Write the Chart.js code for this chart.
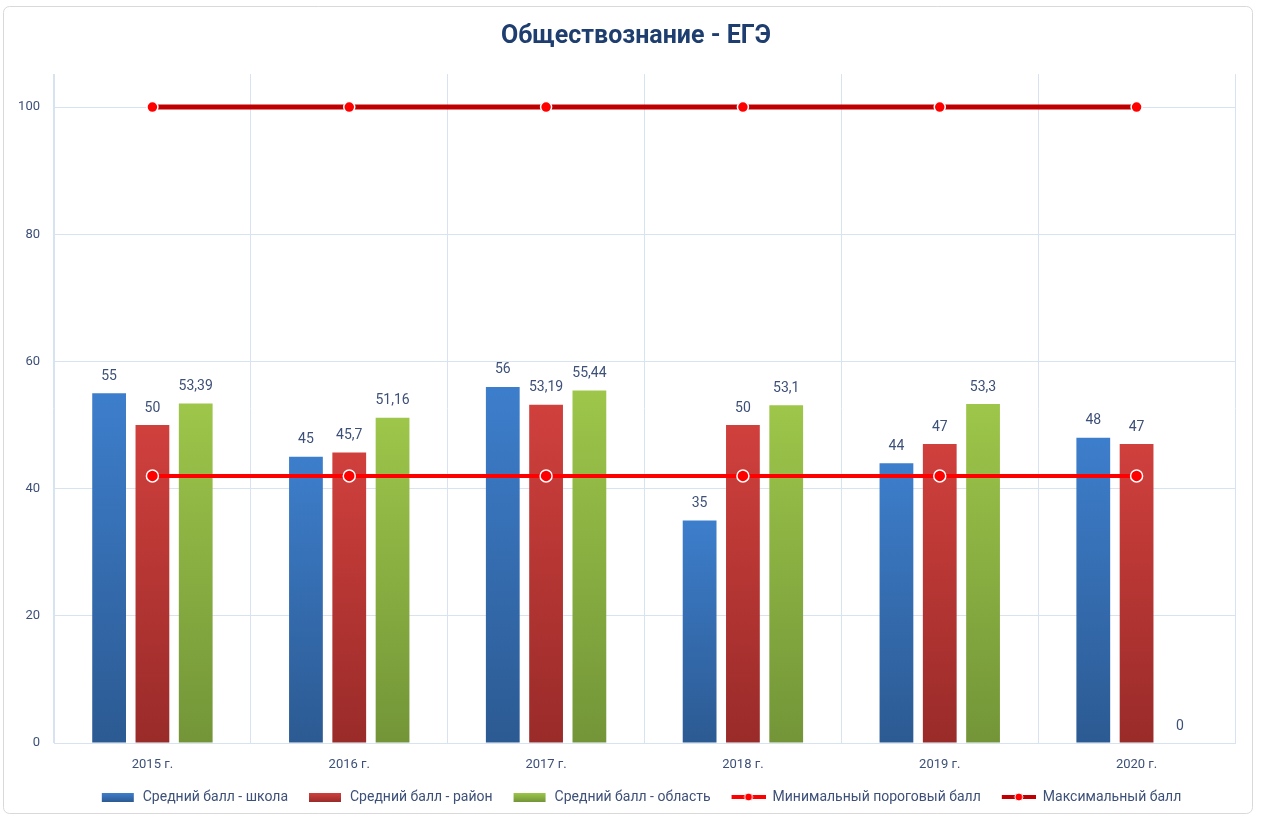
<!DOCTYPE html>
<html><head><meta charset="utf-8">
<script src="https://cdn.jsdelivr.net/npm/chart.js@4.4.0/dist/chart.umd.min.js"></script>
<style>html,body{margin:0;padding:0;background:#fff;overflow:hidden}#wrap{position:absolute;left:0;top:0;width:1261px;height:818px}</style>
</head><body><div id="wrap"><canvas id="c" width="1261" height="818"></canvas></div>
<script>
const categories = ['2015 г.','2016 г.','2017 г.','2018 г.','2019 г.','2020 г.'];
const schoolAvg = [55, 45, 56, 35, 44, 48];
const districtAvg = [50, 45.7, 53.19, 50, 47, 47];
const regionAvg = [53.39, 51.16, 55.44, 53.1, 53.3, 0];
const minThreshold = [42, 42, 42, 42, 42, 42];
const maxScore = [100, 100, 100, 100, 100, 100];
const yTicks = [0, 20, 40, 60, 80, 100];
const seriesNames = ['Средний балл - школа','Средний балл - район','Средний балл - область','Минимальный пороговый балл','Максимальный балл'];
const titleText = 'Обществознание - ЕГЭ';

const FONT = 'Roboto';
const TXT = '#3d5078';
const GRID = '#d8e3f1';
const blue = ['#3d7ecc', '#2c5a92'];
const red = ['#d0403d', '#992b29'];
const green = ['#9dc64a', '#739538'];
const LEAD = 11; // extra space before each legend symbol

function barGrad(c) {
  return (ctx) => {
    const chart = ctx.chart;
    if (!chart.chartArea || !chart.scales.y || !ctx.parsed) return c[0];
    const ys = chart.scales.y;
    const y0 = ys.getPixelForValue(ctx.parsed.y || 0);
    const y1 = ys.getPixelForValue(0);
    if (Math.abs(y1 - y0) < 1) return c[0];
    const g = chart.ctx.createLinearGradient(0, y0, 0, y1);
    g.addColorStop(0, c[0]); g.addColorStop(1, c[1]);
    return g;
  };
}
function boxImg(c) {
  const cv = document.createElement('canvas'); cv.width = 34 + LEAD; cv.height = 12;
  const x = cv.getContext('2d');
  const g = x.createLinearGradient(0, 2, 0, 11); g.addColorStop(0, c[0]); g.addColorStop(1, c[1]);
  x.fillStyle = g; x.fillRect(LEAD, 2, 32, 9);
  return cv;
}
function lineImg(col, w) {
  const cv = document.createElement('canvas'); cv.width = 34 + LEAD; cv.height = 12;
  const x = cv.getContext('2d');
  x.strokeStyle = col; x.lineWidth = w; x.beginPath(); x.moveTo(LEAD, 6); x.lineTo(LEAD + 34, 6); x.stroke();
  x.fillStyle = '#ff0000'; x.strokeStyle = '#ffffff'; x.lineWidth = 1;
  x.beginPath(); x.arc(LEAD + 17, 6, 4, 0, Math.PI * 2); x.fill(); x.stroke();
  return cv;
}
const legendImgs = [boxImg(blue), boxImg(red), boxImg(green), lineImg('#ff0000', 4), lineImg('#c00000', 4)];

const frame = {
  id: 'frame',
  beforeDraw(chart) {
    const x = chart.ctx; x.save();
    x.fillStyle = '#fff'; x.fillRect(0, 0, chart.width, chart.height);
    x.strokeStyle = '#d9d9d9'; x.lineWidth = 1;
    x.beginPath(); x.roundRect(3.5, 6.5, 1249, 807, 6); x.stroke();
    x.restore();
  }
};
const labels = {
  id: 'vlabels',
  afterDatasetsDraw(chart) {
    const x = chart.ctx; x.save();
    x.font = '14px ' + FONT; x.fillStyle = TXT; x.textAlign = 'center'; x.textBaseline = 'middle';
    [0, 1, 2].forEach(di => {
      const meta = chart.getDatasetMeta(di);
      meta.data.forEach((el, i) => {
        const v = chart.data.datasets[di].data[i];
        x.fillText(String(v).replace('.', ','), el.x, el.y - 17);
      });
    });
    x.restore();
  }
};

new Chart(document.getElementById('c'), {
  data: {
    labels: categories,
    datasets: [
      { type: 'bar', label: seriesNames[0], data: schoolAvg, backgroundColor: barGrad(blue), order: 1 },
      { type: 'bar', label: seriesNames[1], data: districtAvg, backgroundColor: barGrad(red), order: 1 },
      { type: 'bar', label: seriesNames[2], data: regionAvg, backgroundColor: barGrad(green), order: 1 },
      { type: 'line', label: seriesNames[3], data: minThreshold, borderColor: '#ff0000', borderWidth: 4,
        pointRadius: 6, pointBackgroundColor: '#ff0000', pointBorderColor: '#ffffff', pointBorderWidth: 1.5, order: 0 },
      { type: 'line', label: seriesNames[4], data: maxScore, borderColor: '#c00000', borderWidth: 5,
        pointRadius: 5.5, pointBackgroundColor: '#ff0000', pointBorderColor: '#ffffff', pointBorderWidth: 1.5, order: 0 }
    ]
  },
  options: {
    responsive: false, animation: false, devicePixelRatio: 1,
    categoryPercentage: 0.66, barPercentage: 0.78,
    layout: { padding: { left: 16, right: 5, top: 5, bottom: 4 } },
    scales: {
      x: {
        grid: { color: GRID, offset: true, drawTicks: false },
        border: { color: GRID },
        ticks: { color: TXT, font: { family: FONT, size: 13 }, padding: 14 },
        afterFit(s) { s.height = 37; }
      },
      y: {
        min: 0, max: 105.2,
        grid: { color: GRID, drawTicks: false },
        border: { color: GRID },
        ticks: { color: TXT, font: { family: FONT, size: 13 }, padding: 14 },
        afterBuildTicks(s) { s.ticks = yTicks.map(v => ({ value: v })); },
        afterFit(s) { s.width = 38; }
      },
      yR: {
        position: 'right', min: 0, max: 105.2,
        grid: { display: false }, border: { display: false }, ticks: { display: false },
        afterFit(s) { s.width = 21; }
      }
    },
    plugins: {
      title: { display: true, text: titleText, color: '#1f3e70', font: { family: FONT, size: 25, weight: 'bold' }, padding: { top: 17, bottom: 22 } },
      legend: {
        position: 'bottom',
        labels: {
          usePointStyle: true, pointStyleWidth: 34 + LEAD, padding: 10, color: TXT,
          font: { family: FONT, size: 14 },
          sort: (a, b) => a.datasetIndex - b.datasetIndex,
          generateLabels(chart) {
            const items = Chart.defaults.plugins.legend.labels.generateLabels(chart);
            items.forEach(it => { it.pointStyle = legendImgs[it.datasetIndex]; });
            return items;
          }
        }
      },
      tooltip: { enabled: false }
    }
  },
  plugins: [frame, labels]
});
</script>
</body></html>
